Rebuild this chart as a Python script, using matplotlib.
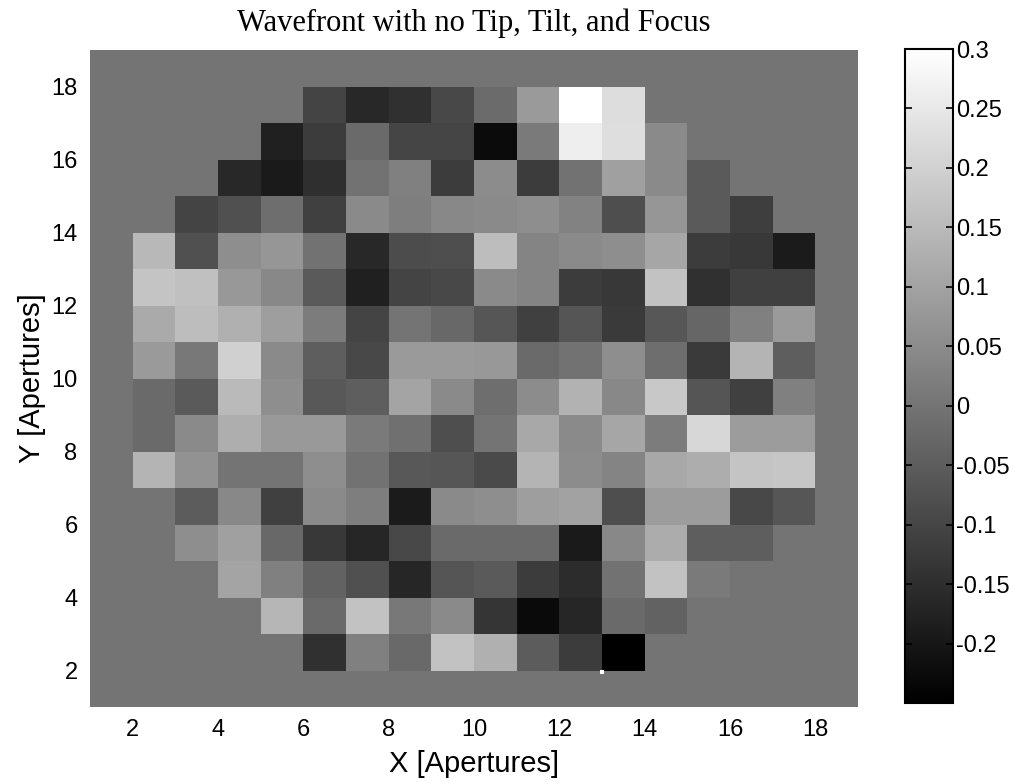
import numpy as np
import matplotlib
matplotlib.use('Agg')
import matplotlib.pyplot as plt

# wavefront values per sub-aperture
# rows from y=18 (top) down to y=1, columns x=1..18
wavefront = [
    [0, 0, 0, 0, 0, 0, 0, 0, 0, 0, 0, 0, 0, 0, 0, 0, 0, 0],
    [0, 0, 0, 0, 0, -0.103, -0.164, -0.146, -0.095, -0.019, 0.082, 0.300, 0.225, 0, 0, 0, 0, 0],
    [0, 0, 0, 0, -0.181, -0.121, -0.021, -0.101, -0.101, -0.226, 0.013, 0.263, 0.229, 0.048, 0, 0, 0, 0],
    [0, 0, 0, -0.164, -0.194, -0.149, -0.004, 0.026, -0.121, 0.052, -0.121, -0.004, 0.095, 0.048, -0.056, 0, 0, 0],
    [0, 0, -0.103, -0.077, -0.013, -0.112, 0.048, 0.022, 0.043, 0.048, 0.056, 0.030, -0.082, 0.074, -0.056, -0.116, 0, 0],
    [0, 0.147, -0.077, 0.056, 0.074, -0.004, -0.164, -0.086, -0.082, 0.158, 0.035, 0.048, 0.056, 0.108, -0.121, -0.129, -0.190, 0],
    [0, 0.173, 0.164, 0.078, 0.043, -0.056, -0.181, -0.103, -0.095, 0.048, 0.035, -0.121, -0.129, 0.168, -0.146, -0.112, -0.112, 0],
    [0, 0.117, 0.158, 0.130, 0.091, 0.017, -0.103, 0.000, -0.026, -0.065, -0.112, -0.067, -0.125, -0.062, -0.030, 0.026, 0.082, 0],
    [0, 0.082, 0.009, 0.199, 0.048, -0.047, -0.095, 0.082, 0.082, 0.078, -0.021, -0.004, 0.056, -0.013, -0.125, 0.138, -0.047, 0],
    [0, -0.021, -0.056, 0.151, 0.056, -0.060, -0.047, 0.104, 0.048, -0.013, 0.052, 0.134, 0.043, 0.181, -0.067, -0.112, 0.026, 0],
    [0, -0.021, 0.048, 0.125, 0.080, 0.080, 0.013, -0.008, -0.082, 0.000, 0.112, 0.048, 0.108, 0.017, 0.212, 0.086, 0.086, 0],
    [0, 0.138, 0.065, 0.000, 0.000, 0.056, -0.004, -0.060, -0.065, -0.090, 0.138, 0.052, 0.035, 0.112, 0.123, 0.173, 0.177, 0],
    [0, 0, -0.052, 0.043, -0.112, 0.048, 0.022, -0.190, 0.048, 0.056, 0.091, 0.099, -0.082, 0.086, 0.086, -0.095, -0.065, 0],
    [0, 0, 0.056, 0.095, -0.026, -0.129, -0.168, -0.095, -0.021, -0.021, -0.021, -0.194, 0.043, 0.121, -0.047, -0.047, 0, 0],
    [0, 0, 0, 0.104, 0.026, -0.039, -0.077, -0.168, -0.067, -0.056, -0.121, -0.155, -0.004, 0.168, 0.013, 0, 0, 0],
    [0, 0, 0, 0, 0.143, -0.021, 0.168, 0.009, 0.048, -0.134, -0.228, -0.168, -0.021, -0.039, 0, 0, 0, 0],
    [0, 0, 0, 0, 0, -0.146, 0.026, -0.024, 0.168, 0.130, -0.052, -0.121, -0.250, 0, 0, 0, 0, 0],
    [0, 0, 0, 0, 0, 0, 0, 0, 0, 0, 0, 0, 0, 0, 0, 0, 0, 0],
]
edges = np.arange(1, 20)
xticks = [2, 4, 6, 8, 10, 12, 14, 16, 18]
cbar_ticks = [0.3, 0.25, 0.2, 0.15, 0.1, 0.05, 0, -0.05, -0.1, -0.15, -0.2]
cbar_labels = ['0.3', '0.25', '0.2', '0.15', '0.1', '0.05', '0', '-0.05', '-0.1', '-0.15', '-0.2']
vmin, vmax = -0.25, 0.30
artifact_xy = (13.0, 1.95)  # little white speck near the bottom

Z = np.array(wavefront)[::-1]

fig = plt.figure(figsize=(10.15, 7.84), dpi=100)
ax = fig.add_axes([90/1015, 77/784, 768/1015, 657/784])
mesh = ax.pcolormesh(edges, edges, Z, cmap='gray', vmin=vmin, vmax=vmax)
ax.plot(artifact_xy[0], artifact_xy[1], 's', color='white', ms=3.5, mew=0)
ax.set_xlim(1, 19)
ax.set_ylim(1, 19)
ax.set_xticks(xticks)
ax.set_yticks(xticks)
ax.tick_params(length=0, labelsize=17, pad=9)
for lab in ax.get_xticklabels() + ax.get_yticklabels():
    lab.set_family(['Liberation Sans'])
for s in ax.spines.values():
    s.set_visible(False)

ax.set_xlabel('X [Apertures]', fontsize=21, family=['Liberation Sans'], labelpad=6)
ax.set_ylabel('Y [Apertures]', fontsize=21, family=['Liberation Sans'], labelpad=4)
ax.set_title('Wavefront with no Tip, Tilt, and Focus', fontsize=22,
             family=['Liberation Serif'], pad=14)

cax = fig.add_axes([905/1015, 81/784, 48/1015, 654/784])
cb = fig.colorbar(mesh, cax=cax)
cb.set_ticks(cbar_ticks)
cb.set_ticklabels(cbar_labels)
cb.outline.set_linewidth(1.5)
cax.tick_params(direction='in', length=5, width=1.2, labelsize=17, pad=2, left=True)
for lab in cax.get_yticklabels():
    lab.set_family(['Liberation Sans'])

fig.savefig('out.png', dpi=100)
